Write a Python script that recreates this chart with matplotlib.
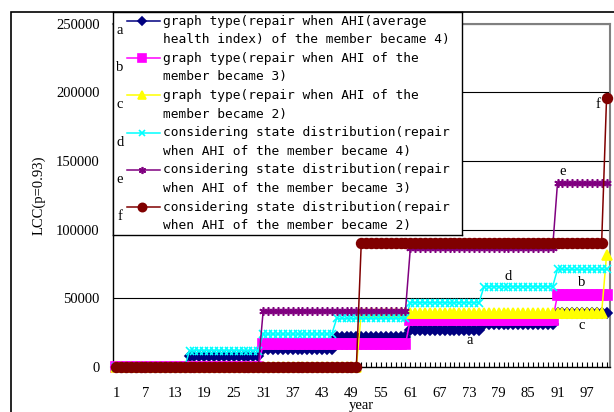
import numpy as np
import matplotlib.pyplot as plt
from matplotlib.patches import Rectangle

years = np.arange(1, 102)

# each series is a staircase: cost level and how many years it holds
a_levels = [0, 7800, 12700, 21500, 26500, 31000, 39500]
a_spans = [15, 15, 15, 15, 15, 15, 11]
b_levels = [0, 16500, 34000, 52300]
b_spans = [30, 30, 30, 11]
c_levels = [0, 39500, 81500]
c_spans = [50, 50, 1]
d_levels = [0, 11700, 23800, 35300, 46600, 58300, 71000]
d_spans = [15, 15, 15, 15, 15, 15, 11]
e_levels = [0, 40500, 86300, 134000]
e_spans = [30, 30, 30, 11]
f_levels = [0, 90500, 196000]
f_spans = [50, 50, 1]

letters = ['a', 'b', 'c', 'd', 'e', 'f']
labels = [
    'graph type(repair when AHI(average\nhealth index) of the member became 4)',
    'graph type(repair when AHI of the\nmember became 3)',
    'graph type(repair when AHI of the\nmember became 2)',
    'considering state distribution(repair\nwhen AHI of the member became 4)',
    'considering state distribution(repair\nwhen AHI of the member became 3)',
    'considering state distribution(repair\nwhen AHI of the member became 2)',
]
yticks = [0, 50000, 100000, 150000, 200000, 250000]
xticks = list(range(1, 102, 6))

colors = ['#000080', '#ff00ff', '#ffff00', '#00ffff', '#800080', '#800000']
markers = ['D', 's', '^', 'x', (6, 2, 0), 'o']
msizes = [5, 6.5, 6.5, 5.5, 6, 7]

series = [np.repeat(lv, sp) for lv, sp in [(a_levels, a_spans), (b_levels, b_spans),
                                           (c_levels, c_spans), (d_levels, d_spans),
                                           (e_levels, e_spans), (f_levels, f_spans)]]

serif = 'Liberation Serif'
mono = 'DejaVu Sans Mono'

W, H = 614, 412
fig = plt.figure(figsize=(W / 100, H / 100), dpi=100)
ax = fig.add_axes([113 / W, 1 - 366.7 / H, 497 / W, 343 / H])

for i, s in enumerate(series):
    ax.plot(years, s, color=colors[i], lw=1.1, marker=markers[i], ms=msizes[i],
            mec=colors[i], mfc=colors[i], mew=1.2, clip_on=False, zorder=3 + i)

ax.set_xlim(0.39, 101.7)
ax.set_ylim(0, 250000)
ax.set_yticks(yticks)
ax.set_yticklabels([str(v) for v in yticks], family=serif, fontsize=10.5)
ax.set_xticks(xticks)
ax.set_xticklabels([str(v) for v in xticks], family=serif, fontsize=10.5)
ax.set_xticks(years, minor=True)
ax.tick_params(axis='x', which='both', direction='in', length=3.6, width=0.8, pad=14.5)
ax.tick_params(axis='y', length=0, pad=9.5)
ax.yaxis.grid(True, color='black', lw=0.8)
ax.set_axisbelow(True)
for side in ['top', 'right']:
    ax.spines[side].set_color('#808080')
    ax.spines[side].set_linewidth(1.5)
for side in ['left', 'bottom']:
    ax.spines[side].set_color('black')
    ax.spines[side].set_linewidth(1)
ax.set_xlabel('year', family=serif, fontsize=10.5)
ax.xaxis.set_label_coords(0.5, -0.093)
ax.set_ylabel('LCC(p=0.93)', family=serif, fontsize=10.5)
ax.yaxis.set_label_coords(-0.135, 0.5)

# data labels next to the curves
label_pts = [(73, (0, -10)), (96, (0, 12)), (96, (0, -13)), (81, (0, 10)), (92, (0, 11)), (101, (-9, -7))]
for i, (yr, off) in enumerate(label_pts):
    ax.annotate(letters[i], (yr, series[i][yr - 1]), xytext=off, textcoords='offset pixels',
                ha='center', va='center', family=serif, fontsize=10.5, zorder=20,
                annotation_clip=False)

# legend box drawn by hand (pixel layout inside the box)
lax = fig.add_axes([113 / W, 1 - 235 / H, 349 / W, 223 / H])
lax.set_xlim(0, 349)
lax.set_ylim(223, 0)
lax.set_xticks([])
lax.set_yticks([])
for sp in lax.spines.values():
    sp.set_color('black')
    sp.set_linewidth(1)
for i in range(6):
    yl = 9 + 37.2 * i
    lax.plot([14, 47], [yl, yl], color=colors[i], lw=1.1)
    lax.plot([28.5], [yl], marker=markers[i], ms=msizes[i] * 0.85, color=colors[i], mew=1.2)
    for j, line in enumerate(labels[i].split('\n')):
        lax.text(50, yl + 18.7 * j, line, va='center', ha='left', family=mono, fontsize=9.3)
    lax.text(7, yl + 9.5, letters[i], ha='center', va='center', family=serif, fontsize=10.5)

fig.add_artist(Rectangle((11 / W, -0.05), 1.0, 1 - 12 / H + 0.05, transform=fig.transFigure,
                         fill=False, ec='black', lw=1.2))

fig.savefig('out.png', dpi=100)
